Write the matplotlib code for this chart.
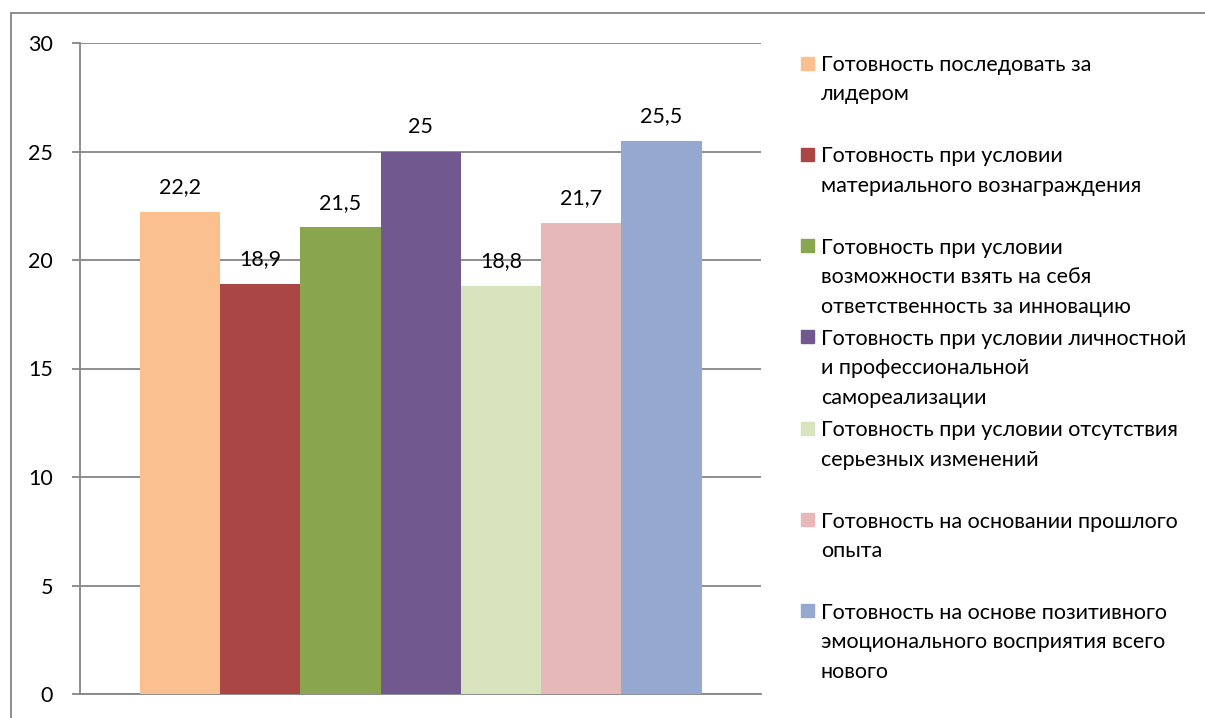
import matplotlib.pyplot as plt
from matplotlib.patches import Rectangle

# ==========================
# Data
# ==========================
labels = [
    "Готовность последовать за\nлидером",
    "Готовность при условии\nматериального вознаграждения",
    "Готовность при условии\nвозможности взять на себя\nответственность за инновацию",
    "Готовность при условии личностной\nи профессиональной\nсамореализации",
    "Готовность при условии отсутствия\nсерьезных изменений",
    "Готовность на основании прошлого\nопыта",
    "Готовность на основе позитивного\nэмоционального восприятия всего\nнового",
]
values = [22.2, 18.9, 21.5, 25.0, 18.8, 21.7, 25.5]
value_text = ["22,2", "18,9", "21,5", "25", "18,8", "21,7", "25,5"]
colors = ["#FAC090", "#AA4643", "#89A54E", "#71588F", "#D7E4BD", "#E6B9B8", "#95A9D0"]
yticks = [0, 5, 10, 15, 20, 25, 30]

plt.rcParams['font.family'] = ['Lato', 'DejaVu Sans']
W, H = 1205, 718
fs = 15.5
fig = plt.figure(figsize=(W / 100, H / 100), dpi=100)

grey = "#868686"

# outer chart border (left and top only visible)
fig.patches.append(Rectangle((11 / W, -0.1), 1.2, 1.1 - 13 / H,
                             transform=fig.transFigure, fill=False,
                             edgecolor=grey, lw=1.3))

ax = fig.add_axes([80 / W, (H - 694) / H, (761 - 80) / W, (694 - 43) / H])

x = list(range(len(values)))
ax.bar(x, values, width=1.0, color=colors, zorder=3)
for xi, v, t in zip(x, values, value_text):
    ax.annotate(t, (xi, v), xytext=(0, 13.5), textcoords="offset points",
                ha="center", va="baseline", fontsize=fs)

ax.set_ylim(0, 30)
ax.set_xlim(-0.5 - 0.745, 6.5 + 0.74)
ax.set_yticks(yticks)
ax.set_xticks([])
ax.yaxis.grid(True, color=grey, lw=1.3, zorder=0)
for s in ["top", "right"]:
    ax.spines[s].set_visible(False)
for s in ["left", "bottom"]:
    ax.spines[s].set_color(grey)
    ax.spines[s].set_linewidth(1.3)
ax.tick_params(axis="y", length=6, width=1.3, color=grey, labelsize=fs, pad=13.5)

# legend, drawn by hand like the Excel one
y0 = 63
step = 91.3
line_h = 29.5
for i, (lab, c) in enumerate(zip(labels, colors)):
    yc = y0 + i * step
    fig.patches.append(Rectangle((801 / W, (H - yc - 6.5) / H), 13 / W, 13 / H,
                                 transform=fig.transFigure, color=c))
    for j, line in enumerate(lab.split("\n")):
        fig.text(821 / W, (H - yc - j * line_h) / H, line, fontsize=fs,
                 ha="left", va="center_baseline")

fig.savefig("out.png", dpi=100)
